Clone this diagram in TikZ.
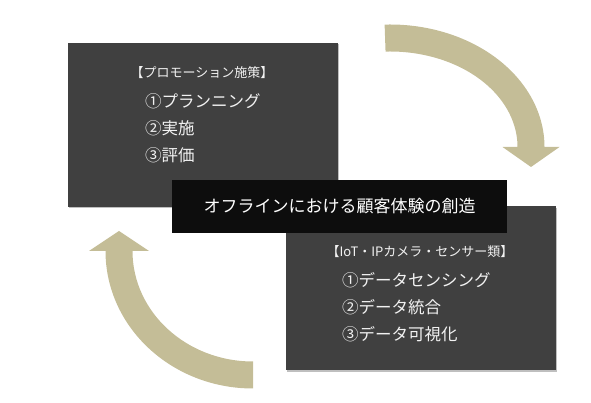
\documentclass[tikz,border=0pt]{standalone}
\usepackage{fontspec}
\newfontfamily\jpfont{Noto Sans CJK JP}
\usepackage{tikz}
\usetikzlibrary{positioning,shadows}
\definecolor{cxgray}{HTML}{404040}
\definecolor{cxtan}{HTML}{C4BD97}
\definecolor{cxblack}{HTML}{0D0D0D}
\tikzset{
  cxpanel/.style={fill=cxgray,minimum width=270pt,minimum height=164pt,inner sep=0pt,
    drop shadow={shadow xshift=0.6pt,shadow yshift=-1.5pt,fill=black!25,opacity=1}},
  cxcore/.style={fill=cxblack,text=white,minimum width=335pt,minimum height=53pt,
    inner sep=0pt,font=\jpfont\fontsize{17}{20}\selectfont},
  cxhead/.style={text=white!95!black,inner sep=0pt,font=\jpfont\fontsize{13}{16}\selectfont},
  cxlist/.style={text=white!95!black,inner sep=0pt,align=left,
    font=\jpfont\fontsize{16.5}{27}\selectfont},
  cxflow/.style={fill=cxtan},
}
\begin{document}
\begin{tikzpicture}[x=1pt,y=1pt]
\useasboundingbox (0,0) rectangle (591,403);
% curved arrows behind the panels
\begin{scope}[shift={(390,256)}]
\fill[cxflow] (92:154.5 and 122.5)
  arc[start angle=92,end angle=0,x radius=154.5,y radius=122.5]
  -- (169.5,0) -- (141,-20) -- (112.5,0) -- (127.5,0)
  arc[start angle=0,end angle=92,x radius=127.5,y radius=95.5] -- cycle;
\end{scope}
\begin{scope}[shift={(253,152)}]
\fill[cxflow] (270:147.5 and 137.5)
  arc[start angle=270,end angle=180,x radius=147.5,y radius=137.5]
  -- (-164,0) -- (-134,20) -- (-104,0) -- (-120.5,0)
  arc[start angle=180,end angle=270,x radius=120.5,y radius=110.5] -- cycle;
\end{scope}
% panels
\node[cxpanel] (promo) at (203,278) {};
\node[cxpanel] (iot) at (421,114.5) {};
\node[cxhead] (promohead) at (202,330) {【プロモーション施策】};
\node[cxlist,anchor=west] (promolist) at (145,275) {①プランニング\\②実施\\③評価};
\node[cxhead] (iothead) at (420,151) {【IoT・IPカメラ・センサー類】};
\node[cxlist,anchor=west] (iotlist) at (342,96) {①データセンシング\\②データ統合\\③データ可視化};
% centre label on top
\node[cxcore] (core) at (339.5,196.5) {オフラインにおける顧客体験の創造};
\end{tikzpicture}
\end{document}
